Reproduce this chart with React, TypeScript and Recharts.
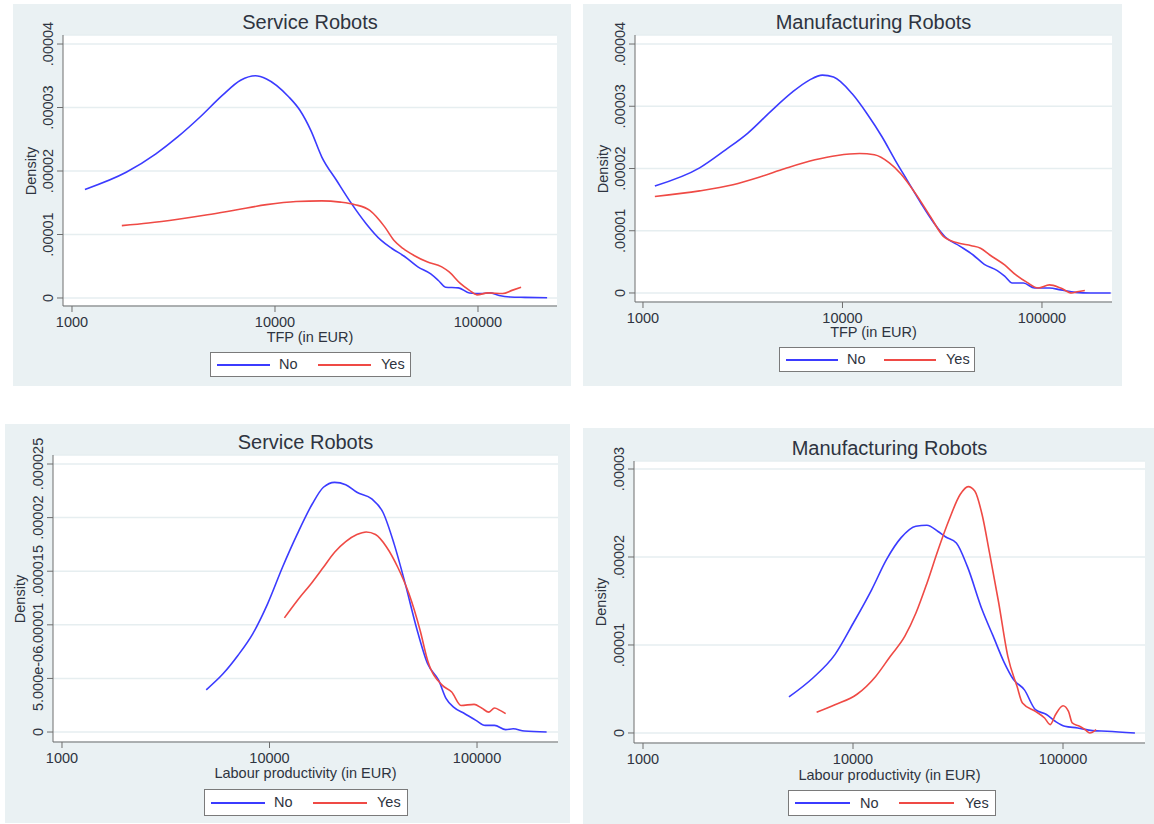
import { LineChart, Line, XAxis, YAxis, CartesianGrid } from 'recharts';

const FONT = '"Liberation Sans", Arial, Helvetica, sans-serif';
const BLUE = '#3b3bff';
const RED = '#ef4a45';
const PANEL_BG = '#eaf1f3';
const AXIS = '#6e6e6e';
const TEXT = '#2e3440';

// shared axis ticks
const xTicks = [1000, 10000, 100000];
const xTickLabels = ['1000', '10000', '100000'];
const yTicksTfp = [0, 0.00001, 0.00002, 0.00003, 0.00004];
const yLabelsTfp = ['0', '.00001', '.00002', '.00003', '.00004'];
const yTicksLabServ = [0, 0.000005, 0.00001, 0.000015, 0.00002, 0.000025];
const yLabelsLabServ = ['0', '5.000e-06', '.00001', '.000015', '.00002', '.000025'];
const yTicksLabManu = [0, 0.00001, 0.00002, 0.00003];
const yLabelsLabManu = ['0', '.00001', '.00002', '.00003'];

// densities below are in units of 1e-5

// TFP, service robots
const tfpServNoX = [1158, 1849, 2590, 3327, 4275, 5500, 6770, 8010, 9080, 11670, 13240, 15010, 17010, 20120, 23780, 28120, 33250, 37690, 43650, 50550, 58500, 63650, 69200, 80100, 90800, 103000, 114400, 127000, 144000, 170000, 219000];
const tfpServNoD = [1.71, 1.98, 2.27, 2.54, 2.85, 3.19, 3.43, 3.5, 3.45, 3.17, 2.96, 2.64, 2.22, 1.85, 1.49, 1.17, 0.91, 0.78, 0.65, 0.49, 0.38, 0.28, 0.17, 0.16, 0.08, 0.07, 0.08, 0.04, 0.016, 0.01, 0.005];
const tfpServYesX = [1760, 2380, 3330, 4650, 6500, 9080, 12700, 17000, 21000, 24800, 29300, 34700, 38500, 42700, 48400, 56100, 66300, 72100, 81800, 90800, 98800, 112000, 132500, 147000, 163000];
const tfpServYesD = [1.14, 1.18, 1.24, 1.31, 1.39, 1.47, 1.52, 1.53, 1.51, 1.47, 1.38, 1.12, 0.91, 0.78, 0.67, 0.57, 0.49, 0.41, 0.23, 0.12, 0.05, 0.08, 0.07, 0.12, 0.17];

// TFP, manufacturing robots
const tfpManuNoX = [1147, 1923, 2594, 3357, 4345, 5623, 6823, 7930, 9020, 11190, 13280, 15780, 18330, 21300, 24760, 28780, 32740, 38900, 45200, 51400, 59700, 65000, 70900, 80700, 91800, 109000, 124000, 147000, 175000, 221000];
const tfpManuNoD = [1.72, 2.01, 2.3, 2.57, 2.91, 3.23, 3.42, 3.5, 3.47, 3.2, 2.88, 2.51, 2.14, 1.79, 1.44, 1.12, 0.9, 0.75, 0.61, 0.46, 0.36, 0.27, 0.16, 0.16, 0.08, 0.08, 0.05, 0.01, 0.0, 0.0];
const tfpManuYesX = [1147, 1923, 2825, 3818, 5160, 7280, 9420, 12190, 14460, 17170, 19540, 23210, 27560, 32040, 37250, 44250, 49200, 54800, 65000, 74000, 84200, 95700, 109000, 124000, 141000, 150000, 164000];
const tfpManuYesD = [1.55, 1.64, 1.74, 1.86, 2.0, 2.14, 2.21, 2.24, 2.22, 2.09, 1.92, 1.6, 1.23, 0.91, 0.81, 0.76, 0.72, 0.61, 0.45, 0.29, 0.17, 0.08, 0.13, 0.08, 0.0, 0.02, 0.04];

// Labour productivity, service robots
const labServNoX = [4955, 5970, 7040, 8300, 9790, 11550, 13620, 16070, 18190, 20590, 23290, 26370, 31100, 35200, 39840, 45100, 51000, 57800, 65400, 71000, 77100, 87300, 98800, 109500, 121400, 137400, 149300, 169000, 216500];
const labServNoD = [0.394, 0.543, 0.714, 0.916, 1.196, 1.537, 1.848, 2.127, 2.283, 2.329, 2.307, 2.236, 2.174, 2.05, 1.755, 1.382, 0.978, 0.637, 0.481, 0.311, 0.233, 0.171, 0.109, 0.062, 0.062, 0.022, 0.031, 0.009, 0.0];
const labServYesX = [11800, 13620, 16070, 18190, 20590, 23290, 26370, 29240, 32420, 36700, 41500, 47000, 53200, 57800, 68100, 75500, 83700, 96800, 105200, 114100, 121400, 129100, 137400];
const labServYesD = [1.065, 1.227, 1.398, 1.537, 1.677, 1.776, 1.842, 1.866, 1.842, 1.724, 1.537, 1.289, 0.947, 0.668, 0.435, 0.373, 0.248, 0.258, 0.224, 0.186, 0.224, 0.202, 0.171];

// Labour productivity, manufacturing robots
const labManuNoX = [4955, 6440, 8200, 10040, 12280, 14430, 16950, 19910, 22480, 25410, 27540, 31050, 35060, 41200, 46500, 52500, 58000, 65500, 73900, 83400, 92200, 102000, 117500, 138000, 162000, 220000];
const labManuNoD = [0.41, 0.625, 0.89, 1.25, 1.63, 1.97, 2.22, 2.35, 2.36, 2.29, 2.23, 2.16, 1.89, 1.4, 1.1, 0.8, 0.61, 0.49, 0.265, 0.21, 0.13, 0.076, 0.057, 0.027, 0.02, 0.0];
const labManuYesX = [6710, 8200, 10450, 12790, 15030, 17660, 19910, 22480, 25410, 28650, 32370, 35350, 38000, 41200, 44650, 49400, 54600, 60400, 64100, 73900, 81700, 86900, 92200, 100000, 106200, 110600, 119900, 127400, 134200, 143800];
const labManuYesD = [0.235, 0.32, 0.44, 0.64, 0.87, 1.1, 1.36, 1.7, 2.08, 2.42, 2.71, 2.8, 2.75, 2.48, 2.05, 1.48, 0.87, 0.53, 0.34, 0.246, 0.17, 0.095, 0.21, 0.31, 0.246, 0.114, 0.076, 0.038, 0.0, 0.038];

type Row = { x: number; d: number };
const toRows = (xs: number[], ds: number[]): Row[] => xs.map((x, i) => ({ x, d: ds[i] * 1e-5 }));

type Rect = { left: number; top: number; right: number; bottom: number };

interface PanelProps {
  title: string;
  xLabel: string;
  bg: Rect;
  plot: Rect;
  xDomain: [number, number];
  yDomain: [number, number];
  yTicks: number[];
  yLabels: string[];
  no: Row[];
  yes: Row[];
  titleY: number;
  xLabelY: number;
  densityX: number;
  legend: Rect;
}

function Text({ cx, cy, size, children, rotate }: { cx: number; cy: number; size: number; children: string; rotate?: boolean }) {
  return (
    <div
      style={{
        position: 'absolute', left: cx - 200, top: cy - 15, width: 400, height: 30,
        lineHeight: '30px', textAlign: 'center', fontSize: size, color: TEXT,
        fontFamily: FONT, whiteSpace: 'nowrap',
        transform: rotate ? 'rotate(-90deg)' : undefined,
      }}
    >
      {children}
    </div>
  );
}

function YTick(props: any) {
  const { x, y, payload, ticks, labels } = props;
  const i = ticks.findIndex((t: number) => Math.abs(t - payload.value) < 1e-12);
  return (
    <text x={x} y={y} transform={`rotate(-90 ${x} ${y})`} textAnchor="middle"
      fontSize={14.5} fontFamily={FONT} fill={TEXT}>
      {i >= 0 ? labels[i] : ''}
    </text>
  );
}

function XTick(props: any) {
  const { x, y, payload } = props;
  const i = xTicks.indexOf(payload.value);
  return (
    <text x={x} y={y} dy="0.71em" textAnchor="middle" fontSize={14.5} fontFamily={FONT} fill={TEXT}>
      {i >= 0 ? xTickLabels[i] : ''}
    </text>
  );
}

function Legend({ box }: { box: Rect }) {
  const w = box.right - box.left;
  const h = box.bottom - box.top;
  const mid = Math.round(h / 2) - 2;
  const line = (left: number, color: string) => (
    <div style={{ position: 'absolute', left: Math.round(left * w), top: mid, width: Math.round(0.265 * w), height: 2, background: color }} />
  );
  const label = (left: number, text: string) => (
    <div style={{ position: 'absolute', left: Math.round(left * w), top: 0, height: h, lineHeight: `${h - 2}px`, fontSize: 14.5, fontFamily: FONT, color: TEXT }}>{text}</div>
  );
  return (
    <div style={{ position: 'absolute', left: box.left, top: box.top, width: w, height: h, background: '#fff', border: '1.5px solid #7a7a7a', boxSizing: 'border-box' }}>
      {line(0.03, BLUE)}
      {label(0.34, 'No')}
      {line(0.53, RED)}
      {label(0.845, 'Yes')}
    </div>
  );
}

function Panel(p: PanelProps) {
  const w = p.bg.right - p.bg.left;
  const h = p.bg.bottom - p.bg.top;
  const cx = (p.plot.left + p.plot.right) / 2;
  return (
    <>
      <div style={{ position: 'absolute', left: p.bg.left, top: p.bg.top, width: w, height: h, background: PANEL_BG }}>
        <LineChart
          width={w}
          height={h}
          margin={{ top: p.plot.top - p.bg.top, right: p.bg.right - p.plot.right, left: 0, bottom: 0 }}
        >
          <CartesianGrid vertical={false} stroke="#e6eef0" strokeWidth={1.5} fill="#ffffff" />
          <XAxis
            type="number"
            dataKey="x"
            scale="log"
            domain={p.xDomain}
            ticks={xTicks}
            allowDataOverflow
            height={p.bg.bottom - p.plot.bottom}
            stroke={AXIS}
            tickSize={6}
            tickMargin={5}
            tick={<XTick />}
          />
          <YAxis
            type="number"
            domain={p.yDomain}
            ticks={p.yTicks}
            allowDataOverflow
            width={p.plot.left - p.bg.left}
            stroke={AXIS}
            tickSize={6}
            tickMargin={4}
            tick={<YTick ticks={p.yTicks} labels={p.yLabels} />}
          />
          <Line data={p.no} dataKey="d" type="monotone" stroke={BLUE} strokeWidth={1.6} dot={false} isAnimationActive={false} />
          <Line data={p.yes} dataKey="d" type="monotone" stroke={RED} strokeWidth={1.6} dot={false} isAnimationActive={false} />
        </LineChart>
      </div>
      <Text cx={cx} cy={p.titleY} size={20}>{p.title}</Text>
      <Text cx={cx} cy={p.xLabelY} size={14.5}>{p.xLabel}</Text>
      <Text cx={p.densityX} cy={(p.plot.top + p.plot.bottom) / 2} size={14.5} rotate>Density</Text>
      <Legend box={p.legend} />
    </>
  );
}

export default function App() {
  return (
    <div style={{ position: 'absolute', left: 0, top: 0, width: 1154, height: 824, background: '#fff', overflow: 'hidden' }}>
      <Panel
        title="Service Robots"
        xLabel="TFP (in EUR)"
        bg={{ left: 13, top: 4, right: 571, bottom: 386 }}
        plot={{ left: 63, top: 35, right: 557, bottom: 306 }}
        xDomain={[903, 245000]}
        yDomain={[-0.00000126, 0.00004142]}
        yTicks={yTicksTfp}
        yLabels={yLabelsTfp}
        no={toRows(tfpServNoX, tfpServNoD)}
        yes={toRows(tfpServYesX, tfpServYesD)}
        titleY={22}
        xLabelY={337}
        densityX={31}
        legend={{ left: 210, top: 352, right: 411, bottom: 377 }}
      />
      <Panel
        title="Manufacturing Robots"
        xLabel="TFP (in EUR)"
        bg={{ left: 583, top: 4, right: 1122, bottom: 386 }}
        plot={{ left: 635, top: 35, right: 1112, bottom: 302 }}
        xDomain={[912, 224400]}
        yDomain={[-0.00000145, 0.00004145]}
        yTicks={yTicksTfp}
        yLabels={yLabelsTfp}
        no={toRows(tfpManuNoX, tfpManuNoD)}
        yes={toRows(tfpManuYesX, tfpManuYesD)}
        titleY={22}
        xLabelY={332}
        densityX={603}
        legend={{ left: 779, top: 347, right: 975, bottom: 372 }}
      />
      <Panel
        title="Service Robots"
        xLabel="Labour productivity (in EUR)"
        bg={{ left: 5, top: 424, right: 570, bottom: 823 }}
        plot={{ left: 53, top: 455, right: 558, bottom: 742 }}
        xDomain={[905, 245600]}
        yDomain={[-0.00000093, 0.00002584]}
        yTicks={yTicksLabServ}
        yLabels={yLabelsLabServ}
        no={toRows(labServNoX, labServNoD)}
        yes={toRows(labServYesX, labServYesD)}
        titleY={442}
        xLabelY={773}
        densityX={20}
        legend={{ left: 204, top: 789, right: 408, bottom: 816 }}
      />
      <Panel
        title="Manufacturing Robots"
        xLabel="Labour productivity (in EUR)"
        bg={{ left: 583, top: 428, right: 1154, bottom: 824 }}
        plot={{ left: 634, top: 461, right: 1145, bottom: 743 }}
        xDomain={[906, 245700]}
        yDomain={[-0.00000114, 0.00003091]}
        yTicks={yTicksLabManu}
        yLabels={yLabelsLabManu}
        no={toRows(labManuNoX, labManuNoD)}
        yes={toRows(labManuYesX, labManuYesD)}
        titleY={448}
        xLabelY={775}
        densityX={601}
        legend={{ left: 788, top: 790, right: 996, bottom: 816 }}
      />
    </div>
  );
}
